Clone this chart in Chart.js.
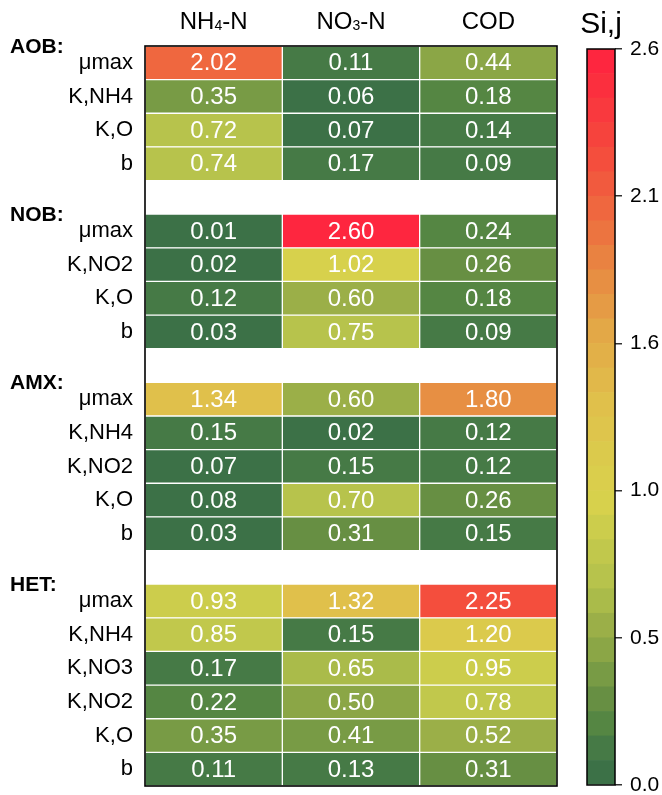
<!DOCTYPE html>
<html>
<head>
<meta charset="utf-8">
<script src="https://cdn.jsdelivr.net/npm/chart.js@4.4.1/dist/chart.umd.min.js"></script>
<style>
  html, body { margin: 0; padding: 0; background: #fff; }
  #wrap { position: relative; width: 662px; height: 795px; }
  #heat { position: absolute; left: 0; top: 0; }
  #bar  { position: absolute; left: 560px; top: 0; }
</style>
</head>
<body>
<div id="wrap">
  <canvas id="heat" width="662" height="795"></canvas>
  <canvas id="bar" width="102" height="795"></canvas>
</div>
<script>
// Output variables (columns)
const columns = ['NH₄-N', 'NO₃-N', 'COD'];

// Microbial groups and their kinetic parameters
const groupNames = ['AOB:', 'NOB:', 'AMX:', 'HET:'];

const aobParams = ['μmax', 'K,NH4', 'K,O', 'b'];
const aobValues = [
  [2.02, 0.11, 0.44],
  [0.35, 0.06, 0.18],
  [0.72, 0.07, 0.14],
  [0.74, 0.17, 0.09]
];

const nobParams = ['μmax', 'K,NO2', 'K,O', 'b'];
const nobValues = [
  [0.01, 2.60, 0.24],
  [0.02, 1.02, 0.26],
  [0.12, 0.60, 0.18],
  [0.03, 0.75, 0.09]
];

const amxParams = ['μmax', 'K,NH4', 'K,NO2', 'K,O', 'b'];
const amxValues = [
  [1.34, 0.60, 1.80],
  [0.15, 0.02, 0.12],
  [0.07, 0.15, 0.12],
  [0.08, 0.70, 0.26],
  [0.03, 0.31, 0.15]
];

const hetParams = ['μmax', 'K,NH4', 'K,NO3', 'K,NO2', 'K,O', 'b'];
const hetValues = [
  [0.93, 1.32, 2.25],
  [0.85, 0.15, 1.20],
  [0.17, 0.65, 0.95],
  [0.22, 0.50, 0.78],
  [0.35, 0.41, 0.52],
  [0.11, 0.13, 0.31]
];

// Colour scale
const scaleMin = 0;
const scaleMax = 2.6;
const colorBins = 30;
const cbTickValues = [0, 0.52, 1.04, 1.56, 2.08, 2.60];
const cbTickLabels = ['0.0', '0.5', '1.0', '1.6', '2.1', '2.6'];
const cbTitle = 'Si,j';

const FONT = '"Liberation Sans", Arial, Helvetica, sans-serif';

// green -> yellow -> red colour ramp
const rampStops = [
  [0.00, [55, 109, 72]],
  [0.13, [70, 122, 70]],
  [0.22, [86, 134, 67]],
  [0.30, [102, 143, 67]],
  [0.39, [120, 155, 69]],
  [0.48, [140, 166, 70]],
  [0.56, [154, 175, 72]],
  [0.65, [170, 187, 74]],
  [0.74, [183, 195, 76]],
  [0.82, [193, 200, 76]],
  [0.91, [204, 205, 76]],
  [1.00, [215, 209, 76]],
  [1.10, [218, 205, 76]],
  [1.20, [220, 200, 76]],
  [1.34, [224, 192, 75]],
  [1.60, [227, 168, 71]],
  [1.80, [231, 140, 66]],
  [2.00, [238, 108, 63]],
  [2.25, [245, 72, 61]],
  [2.60, [255, 33, 63]]
];

function rampColor(v) {
  if (v <= rampStops[0][0]) return rampStops[0][1];
  for (let i = 1; i < rampStops.length; i++) {
    const [v1, c1] = rampStops[i];
    const [v0, c0] = rampStops[i - 1];
    if (v <= v1) {
      const t = (v - v0) / (v1 - v0);
      return c0.map((c, k) => Math.round(c + (c1[k] - c) * t));
    }
  }
  return rampStops[rampStops.length - 1][1];
}

const binWidth = (scaleMax - scaleMin) / colorBins;

function binIndex(v) {
  return Math.max(0, Math.min(colorBins - 1, Math.floor((v - scaleMin) / binWidth + 1e-9)));
}

function binColor(i) {
  const c = rampColor(scaleMin + (i + 0.5) * binWidth);
  return `rgb(${c[0]},${c[1]},${c[2]})`;
}

function valueColor(v) {
  return binColor(binIndex(v));
}

// Stack the groups into one row list, with an empty row between groups
const groups = [
  { name: groupNames[0], params: aobParams, values: aobValues },
  { name: groupNames[1], params: nobParams, values: nobValues },
  { name: groupNames[2], params: amxParams, values: amxValues },
  { name: groupNames[3], params: hetParams, values: hetValues }
];

const rowLabels = [];
const rowValues = [];
const groupStarts = [];
groups.forEach((g, gi) => {
  if (gi > 0) { rowLabels.push(''); rowValues.push(null); }
  groupStarts.push(rowLabels.length);
  g.params.forEach((p, pi) => {
    rowLabels.push(p);
    rowValues.push(g.values[pi]);
  });
});

const heatDatasets = columns.map((col, c) => ({
  label: col,
  data: rowValues.map(r => (r ? [c, c + 1] : null)),
  backgroundColor: rowValues.map(r => (r ? valueColor(r[c]) : 'rgba(0,0,0,0)')),
  borderColor: '#ffffff',
  borderWidth: 1,
  borderSkipped: false,
  grouped: false,
  barPercentage: 1,
  categoryPercentage: 1
}));

// Draws text where Unicode subscript digits are set smaller and lower
function drawSubscriptText(ctx, text, cx, baseline, size) {
  const parts = [];
  for (const ch of text) {
    const code = ch.codePointAt(0);
    const sub = code >= 0x2080 && code <= 0x2089;
    const plain = sub ? String.fromCharCode(48 + code - 0x2080) : ch;
    const last = parts[parts.length - 1];
    if (last && last.sub === sub) last.text += plain;
    else parts.push({ sub, text: plain });
  }
  const subSize = Math.round(size * 0.6);
  let total = 0;
  parts.forEach(p => {
    ctx.font = `${p.sub ? subSize : size}px ${FONT}`;
    p.w = ctx.measureText(p.text).width;
    total += p.w;
  });
  let x = cx - total / 2;
  ctx.textAlign = 'left';
  ctx.textBaseline = 'alphabetic';
  parts.forEach(p => {
    ctx.font = `${p.sub ? subSize : size}px ${FONT}`;
    ctx.fillText(p.text, x, baseline + (p.sub ? 1 : 0));
    x += p.w;
  });
}

// keep the axis from reserving extra room for its end labels
function noEndPadding(scale) {
  scale.paddingTop = 0;
  scale.paddingBottom = 0;
}

const heatDecor = {
  id: 'heatDecor',
  afterDatasetsDraw(chart) {
    const { ctx, chartArea, scales } = chart;
    const xs = scales.x, ys = scales.y;
    ctx.save();

    // cell values
    ctx.fillStyle = '#ffffff';
    ctx.font = `24px ${FONT}`;
    ctx.textAlign = 'center';
    ctx.textBaseline = 'middle';
    rowValues.forEach((r, ri) => {
      if (!r) return;
      r.forEach((v, c) => {
        ctx.fillText(v.toFixed(2), xs.getPixelForValue(c + 0.5), ys.getPixelForValue(ri) + 1);
      });
    });

    // frame
    ctx.strokeStyle = '#000000';
    ctx.lineWidth = 1.6;
    ctx.strokeRect(chartArea.left, chartArea.top, chartArea.right - chartArea.left, chartArea.bottom - chartArea.top);

    // column headers
    ctx.fillStyle = '#000000';
    columns.forEach((col, c) => {
      drawSubscriptText(ctx, col, xs.getPixelForValue(c + 0.5), chartArea.top - 17, 24);
    });

    // group titles, on the upper edge of each group's first row
    const half = (ys.getPixelForValue(1) - ys.getPixelForValue(0)) / 2;
    ctx.font = `bold 21px ${FONT}`;
    ctx.textAlign = 'left';
    ctx.textBaseline = 'middle';
    groups.forEach((g, gi) => {
      ctx.fillText(g.name, 10, ys.getPixelForValue(groupStarts[gi]) - half + 1);
    });

    ctx.restore();
  }
};

new Chart(document.getElementById('heat'), {
  type: 'bar',
  data: { labels: rowLabels, datasets: heatDatasets },
  options: {
    indexAxis: 'y',
    responsive: false,
    animation: false,
    events: [],
    layout: { padding: { left: 0, right: 105, top: 46, bottom: 9 } },
    plugins: { legend: { display: false }, tooltip: { enabled: false } },
    scales: {
      x: { type: 'linear', min: 0, max: columns.length, display: false },
      y: {
        type: 'category',
        grid: { display: false, drawTicks: false },
        border: { display: false },
        ticks: { autoSkip: false, color: '#000', padding: 12, font: { family: FONT, size: 22 } },
        afterFit(scale) { scale.width = 145; noEndPadding(scale); }
      }
    }
  },
  plugins: [heatDecor]
});

// Colour bar
const cbDatasets = [];
for (let i = 0; i < colorBins; i++) {
  cbDatasets.push({
    data: [[scaleMin + i * binWidth, scaleMin + (i + 1) * binWidth]],
    backgroundColor: binColor(i),
    borderWidth: 0,
    grouped: false,
    barPercentage: 1,
    categoryPercentage: 1
  });
}

const cbDecor = {
  id: 'cbDecor',
  afterDatasetsDraw(chart) {
    const { ctx, chartArea } = chart;
    ctx.save();
    ctx.strokeStyle = '#000000';
    ctx.lineWidth = 1.5;
    ctx.strokeRect(chartArea.left, chartArea.top, chartArea.right - chartArea.left, chartArea.bottom - chartArea.top);
    ctx.fillStyle = '#000000';
    ctx.font = `30px ${FONT}`;
    ctx.textAlign = 'center';
    ctx.textBaseline = 'alphabetic';
    ctx.fillText(cbTitle, (chartArea.left + chartArea.right) / 2, 33);
    ctx.restore();
  }
};

new Chart(document.getElementById('bar'), {
  type: 'bar',
  data: { labels: [''], datasets: cbDatasets },
  options: {
    responsive: false,
    animation: false,
    events: [],
    layout: { padding: { left: 27, right: 0, top: 49, bottom: 10 } },
    plugins: { legend: { display: false }, tooltip: { enabled: false } },
    scales: {
      x: { display: false },
      y: {
        position: 'right',
        min: scaleMin,
        max: scaleMax,
        afterBuildTicks(scale) { scale.ticks = cbTickValues.map(v => ({ value: v })); },
        ticks: {
          color: '#000',
          padding: 8,
          font: { family: FONT, size: 21 },
          callback: (v, i) => cbTickLabels[i]
        },
        grid: { drawOnChartArea: false, drawTicks: true, tickLength: 7, color: '#333', lineWidth: 1.5 },
        border: { display: false },
        afterFit(scale) { scale.width = 47; noEndPadding(scale); }
      }
    }
  },
  plugins: [cbDecor]
});
</script>
</body>
</html>
